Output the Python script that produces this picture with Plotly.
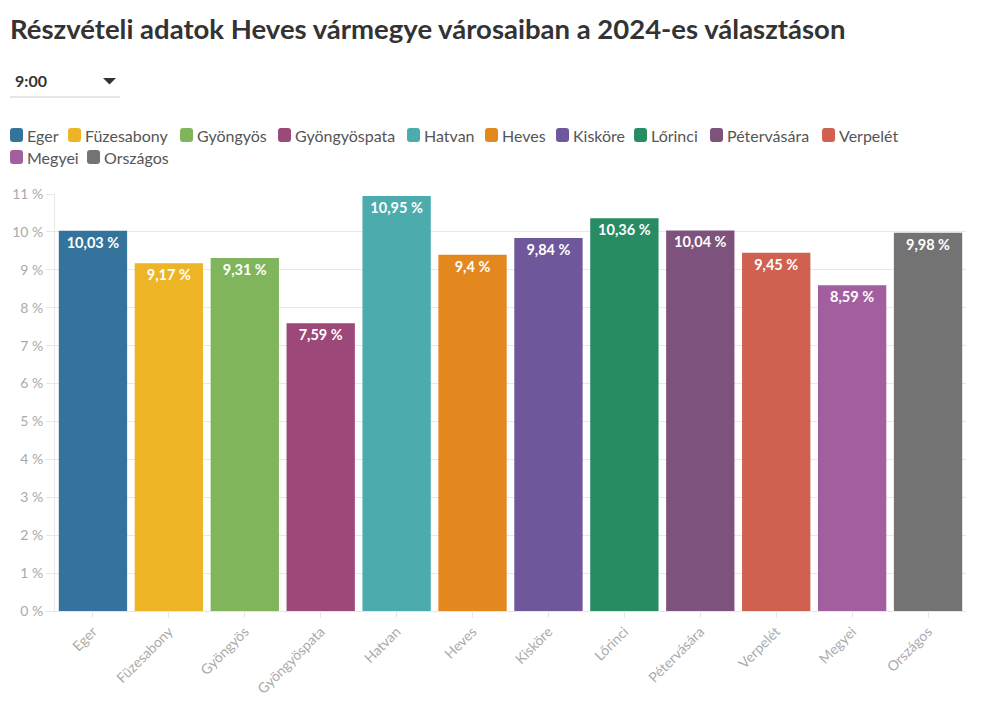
import plotly.graph_objects as go

categories = ["Eger", "Füzesabony", "Gyöngyös", "Gyöngyöspata", "Hatvan", "Heves",
              "Kisköre", "Lőrinci", "Pétervására", "Verpelét", "Megyei", "Országos"]
values = [10.03, 9.17, 9.31, 7.59, 10.95, 9.4, 9.84, 10.36, 10.04, 9.45, 8.59, 9.98]
colors = ["#33739c", "#edb526", "#80b55b", "#9c4878", "#4cabac", "#e3871f",
          "#6f579c", "#288c63", "#7d527c", "#d0604f", "#a35ea0", "#737373"]
y_ticks = list(range(0, 12))
y_tick_labels = [f"{v} %" for v in y_ticks]

# page has an 8px body margin; figure sized to fill the remaining window
OFF = 8
W, H = 988 - OFF, 716 - OFF
ML, MR, MT, MB = 55 - OFF, 21.5, 194 - OFF, 105
PW, PH = W - ML - MR, H - MT - MB

def px_x(px):
    """page pixel x -> paper"""
    return (px - OFF - ML) / PW

def px_y(py):
    """page pixel y -> paper"""
    return (H - MB - (py - OFF)) / PH

FONT = "Lato, Noto Sans, sans-serif"

fig = go.Figure()
for name, val, col in zip(categories, values, colors):
    label = (f"{val:g}".replace(".", ",")) + " %"
    fig.add_trace(go.Bar(
        x=[name], y=[val], name=name,
        marker=dict(color=col, line=dict(width=0)),
        text=[label], textposition="inside", insidetextanchor="end",
        textangle=0,
        textfont=dict(color="white", size=14.5, family=FONT, weight="bold"),
        hovertemplate="%{x}: %{y} %<extra></extra>",
        showlegend=False,
    ))

fig.update_layout(
    width=W, height=H,
    plot_bgcolor="white", paper_bgcolor="white",
    barmode="overlay", bargap=0.1,
    font=dict(family=FONT, color="#555555"),
    margin=dict(l=ML, r=MR, t=MT, b=MB, autoexpand=False),
    showlegend=False,
    title=dict(text="<b>Részvételi adatok Heves vármegye városaiban a 2024-es választáson</b>",
               xref="container", yref="container",
               x=(10 - OFF) / W, xanchor="left", y=1 - (29 - OFF) / H, yanchor="middle",
               font=dict(size=27.5, color="#333333", family=FONT)),
    uniformtext=dict(minsize=8, mode="show"),
)

fig.update_xaxes(
    automargin=False,
    tickangle=-45, tickfont=dict(size=14, color="#aaaaaa", family=FONT),
    showline=True, linecolor="#e6e6e6", linewidth=1,
    ticks="outside", tickcolor="#e6e6e6", ticklen=6,
    showgrid=False,
)
fig.update_yaxes(
    automargin=False,
    range=[0, 11], tickmode="array", tickvals=y_ticks, ticktext=y_tick_labels,
    tickfont=dict(size=14, color="#aaaaaa", family=FONT),
    showgrid=True, gridcolor="#e8e8e8", gridwidth=1,
    ticks="outside", tickcolor="#e8e8e8", ticklen=8,
    showline=True, linecolor="#e8e8e8", zeroline=False,
)

def rounded_rect(x0, y0, x1, y1, r):
    # coords in page pixels; converted to pixel offsets from the page origin (y up)
    X = lambda v: v
    Y = lambda v: -v
    return (f"M{X(x0 + r)},{Y(y0)} L{X(x1 - r)},{Y(y0)} Q{X(x1)},{Y(y0)} {X(x1)},{Y(y0 + r)} "
            f"L{X(x1)},{Y(y1 - r)} Q{X(x1)},{Y(y1)} {X(x1 - r)},{Y(y1)} L{X(x0 + r)},{Y(y1)} "
            f"Q{X(x0)},{Y(y1)} {X(x0)},{Y(y1 - r)} L{X(x0)},{Y(y0 + r)} Q{X(x0)},{Y(y0)} {X(x0 + r)},{Y(y0)} Z")

# legend drawn as symbols + labels (row, left x of symbol in page px)
legend_slots = [(0, 10), (0, 68), (0, 180), (0, 278), (0, 407), (0, 485),
                (0, 556), (0, 634), (0, 710), (0, 822), (1, 10), (1, 87)]
row_y = [135, 157]
for (row, lx), name, col in zip(legend_slots, categories, colors):
    cy = row_y[row]
    fig.add_shape(type="path", xref="paper", yref="paper",
                  xsizemode="pixel", ysizemode="pixel",
                  xanchor=px_x(0), yanchor=px_y(0),
                  path=rounded_rect(lx, cy - 7, lx + 13, cy + 7, 3),
                  fillcolor=col, line=dict(width=0), layer="above")
    fig.add_annotation(text=name, xref="paper", yref="paper",
                       x=px_x(lx + 15), y=px_y(cy), xanchor="left", yanchor="middle",
                       showarrow=False, font=dict(size=16, color="#555555", family=FONT))

# dropdown-like selector
fig.add_annotation(text="<b>9:00</b>", xref="paper", yref="paper", x=px_x(13), y=px_y(81),
                   xanchor="left", yanchor="middle", showarrow=False,
                   font=dict(size=16, color="#333333", family=FONT))
fig.add_shape(type="path", xref="paper", yref="paper",
              xsizemode="pixel", ysizemode="pixel", xanchor=px_x(0), yanchor=px_y(0),
              path="M103,-78 L116,-78 L109.5,-84.5 Z",
              fillcolor="#333333", line=dict(width=0))
fig.add_shape(type="line", xref="paper", yref="paper", x0=px_x(10), x1=px_x(120),
              y0=px_y(97), y1=px_y(97), line=dict(color="#cccccc", width=1))

fig.write_html("out.html")
